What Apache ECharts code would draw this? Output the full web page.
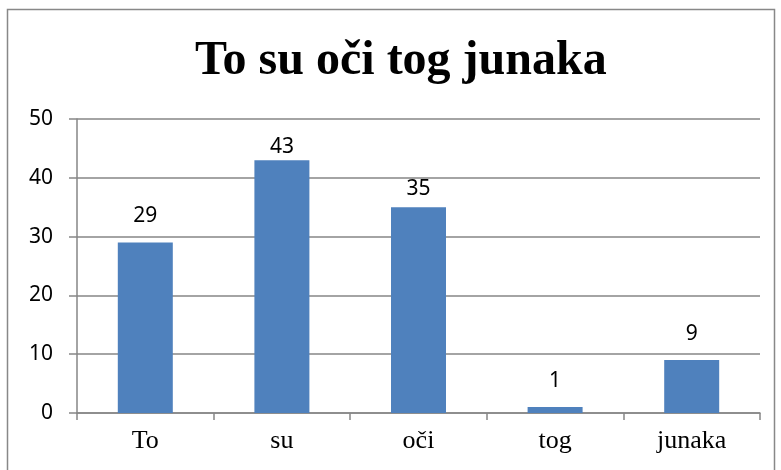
<!DOCTYPE html>
<html>
<head>
<meta charset="utf-8">
<script src="https://cdn.jsdelivr.net/npm/echarts@6/dist/echarts.min.js"></script>
<style>
  html, body { margin: 0; padding: 0; background: #fff; }
  #chart { width: 781px; height: 470px; }
</style>
</head>
<body>
<div id="chart"></div>
<script>
// podaci s grafikona
const titleText = "To su oči tog junaka";
const categories = ["To", "su", "oči", "tog", "junaka"];
const values = [29, 43, 35, 1, 9];
const yTicks = [0, 10, 20, 30, 40, 50];

// Excel gura oznake visokih stupaca bliže stupcu
const labelDistance = (v) => (v > 40 ? 3 : v > 30 ? 8 : 16);

const myChart = echarts.init(document.getElementById("chart"));

myChart.setOption({
  animation: false,
  title: {
    text: titleText,
    left: 190,
    top: 33,
    textStyle: {
      fontFamily: "Liberation Serif",
      fontWeight: "bold",
      fontSize: 48,
      color: "#000"
    }
  },
  // okvir oko cijelog grafikona
  graphic: [{
    type: "rect",
    shape: { x: 7.5, y: 9.5, width: 767, height: 470 },
    style: { fill: "none", stroke: "#888", lineWidth: 1.5 },
    silent: true
  }],
  grid: { left: 77, right: 21, top: 119, bottom: 57 },
  xAxis: {
    type: "category",
    data: categories,
    axisLine: { lineStyle: { color: "#868686", width: 1.5 } },
    axisTick: { show: true, length: 7, lineStyle: { color: "#868686", width: 1.5 } },
    axisLabel: {
      fontFamily: "Liberation Serif",
      fontSize: 26,
      color: "#000",
      margin: 15
    }
  },
  yAxis: {
    type: "value",
    min: yTicks[0],
    max: yTicks[yTicks.length - 1],
    interval: 10,
    axisLine: { show: true, lineStyle: { color: "#868686", width: 1.5 } },
    axisTick: { show: true, length: 8, lineStyle: { color: "#868686", width: 1.5 } },
    splitLine: { lineStyle: { color: "#868686", width: 1.5 } },
    axisLabel: {
      fontFamily: "Noto Sans",
      fontSize: 21,
      color: "#000",
      margin: 24
    }
  },
  series: [{
    type: "bar",
    data: values.map((v) => ({ value: v, label: { distance: labelDistance(v) } })),
    barWidth: 55,
    itemStyle: { color: "#4F81BD" },
    label: {
      show: true,
      position: "top",
      fontFamily: "Noto Sans",
      fontSize: 21,
      color: "#000"
    }
  }]
});
</script>
</body>
</html>
